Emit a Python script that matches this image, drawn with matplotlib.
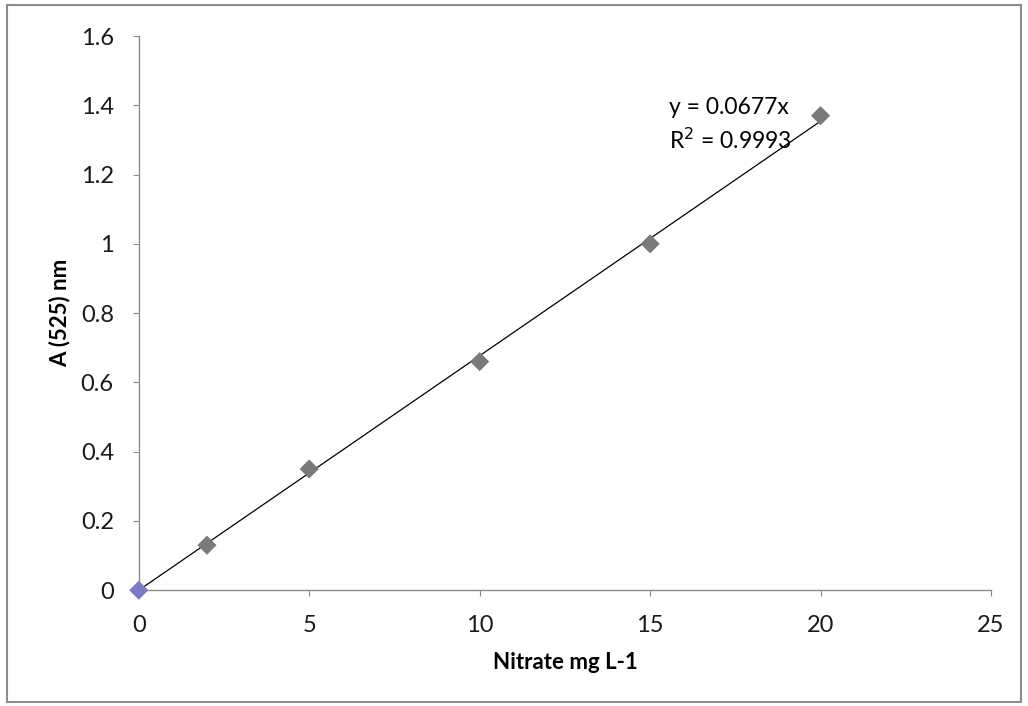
import numpy as np
import matplotlib.pyplot as plt
from matplotlib.patches import Rectangle

# calibration data
nitrate = [0, 2, 5, 10, 15, 20]
absorbance = [0, 0.13, 0.35, 0.66, 1.0, 1.37]
slope = 0.0677
r2 = 0.9993
x_ticks = [0, 5, 10, 15, 20, 25]
y_ticks = [0, 0.2, 0.4, 0.6, 0.8, 1, 1.2, 1.4, 1.6]
y_tick_labels = ['0', '0.2', '0.4', '0.6', '0.8', '1', '1.2', '1.4', '1.6']

plt.rcParams['font.family'] = ['Lato', 'DejaVu Sans']

fig = plt.figure(figsize=(10.28, 7.06), dpi=100)
ax = fig.add_axes([0.135, 0.164, 0.829, 0.785])

# outer chart border
fig.patches.append(Rectangle((0.007, 0.005), 0.986, 0.988, transform=fig.transFigure,
                             fill=False, edgecolor='#8c8c8c', linewidth=1.5))

# trendline through origin
xs = np.array([0, max(nitrate)])
ax.plot(xs, slope * xs, color='black', linewidth=0.9, zorder=2)

colors = ['#7b7bc4'] + ['#7a7a7a'] * (len(nitrate) - 1)
ax.scatter(nitrate, absorbance, marker='D', s=95, c=colors, zorder=3,
           linewidths=0, clip_on=False)

ax.set_xlim(0, 25)
ax.set_ylim(0, 1.6)
ax.set_xticks(x_ticks)
ax.set_yticks(y_ticks)
ax.set_yticklabels(y_tick_labels)
ax.tick_params(labelsize=17, colors='#8c8c8c', labelcolor='#1a1a1a', length=4)
ax.tick_params(axis='y', pad=14)
ax.tick_params(axis='x', pad=14)

for s in ['top', 'right']:
    ax.spines[s].set_visible(False)
for s in ['left', 'bottom']:
    ax.spines[s].set_color('#8c8c8c')
    ax.spines[s].set_linewidth(1.0)

ax.set_xlabel('Nitrate mg L-1', fontsize=16, fontweight='bold', va='center')
ax.set_ylabel('A (525) nm', fontsize=16, fontweight='bold', va='center')
ax.xaxis.set_label_coords(0.5, -0.13, transform=ax.transAxes)
ax.yaxis.set_label_coords(-0.093, 0.5, transform=ax.transAxes)

ax.text(15.55, 1.375, f'y = {slope}x', fontsize=16.5)
ax.text(15.55, 1.275, f'R$^2$ = {r2}', fontsize=16.5)

fig.savefig('out.png', dpi=100)
